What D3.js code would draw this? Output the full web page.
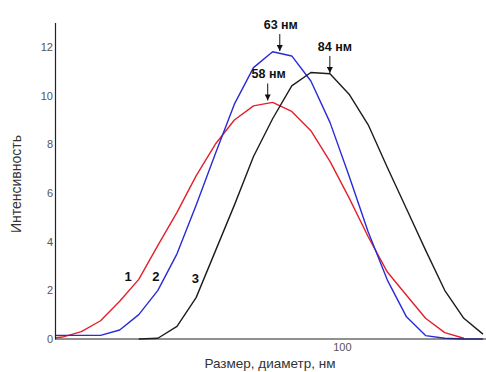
<!DOCTYPE html>
<html>
<head>
<meta charset="utf-8">
<script src="https://cdn.jsdelivr.net/npm/d3@7"></script>
<style>
  body { margin: 0; background: #fff; }
  svg { display: block; font-family: "Liberation Sans", Arial, sans-serif; }
</style>
</head>
<body>
<div id="chart"></div>
<script>
// ── Data (DLS size bins, nm) ──────────────────────────────────────────────
const sizes = [10.10, 11.70, 13.54, 15.69, 18.17, 21.04, 24.36, 28.21, 32.67, 37.84,
  43.82, 50.75, 58.77, 68.06, 78.82, 91.28, 105.7, 122.4, 141.8, 164.2, 190.1,
  220.2, 255.0, 295.3];

const series1 = [0, 0.08, 0.3, 0.75, 1.55, 2.45, 3.85, 5.2, 6.7, 8.0,
  9.0, 9.58, 9.72, 9.35, 8.56, 7.3, 5.8, 4.2, 2.75, 1.8, 0.85,
  0.26, 0.03, null];
const series2 = [0.15, 0.15, 0.15, 0.15, 0.37, 1.0, 2.0, 3.5, 5.5, 7.6,
  9.65, 11.15, 11.8, 11.63, 10.6, 8.9, 6.7, 4.4, 2.42, 0.91, 0.14,
  0.03, 0, 0];
const series3 = [null, null, null, null, null, 0, 0.03, 0.52, 1.7, 3.6,
  5.5, 7.5, 9.05, 10.4, 10.95, 10.9, 10.06, 8.8, 7.05, 5.35, 3.65,
  2.0, 0.85, 0.2];

const seriesNames = ["1", "2", "3"];
const yTicks = [0, 2, 4, 6, 8, 10, 12];
const xTicks = [100];

// peak annotations: label, size (nm) at arrow, intensity at arrow tip
const peakLabels = ["58 нм", "63 нм", "84 нм"];
const peakSizes = [56.6, 62.1, 91.2];
const peakValues = [9.8, 11.83, 10.93];

// curve number labels: size (nm), intensity
const numSizes = [19.4, 24.0, 32.5];
const numValues = [2.38, 2.38, 2.3];

// ── Dimensions ────────────────────────────────────────────────────────────
const W = 486, H = 372;
const margin = { left: 55, right: 485, bottom: 339, top: 22.6 };

const svg = d3.select("#chart").append("svg")
  .attr("width", W).attr("height", H);

// ── Scales ────────────────────────────────────────────────────────────────
const x = d3.scaleLog().domain([11.06, 300]).range([margin.left, margin.right]);
const y = d3.scaleLinear().domain([0, 13]).range([margin.bottom, margin.top]);

const colors = ["#e3202b", "#2a2ad6", "#1c1c1c"];

// ── Clip ──────────────────────────────────────────────────────────────────
svg.append("clipPath").attr("id", "plot")
  .append("rect")
  .attr("x", margin.left).attr("y", 0)
  .attr("width", W - margin.left).attr("height", margin.bottom + 1);

// ── Lines ─────────────────────────────────────────────────────────────────
const line = d3.line()
  .defined((d) => d[1] != null)
  .x((d) => x(d[0]))
  .y((d) => y(d[1]));

[series1, series2, series3].forEach((s, i) => {
  svg.append("path")
    .datum(sizes.map((d, j) => [d, s[j]]))
    .attr("clip-path", "url(#plot)")
    .attr("fill", "none")
    .attr("stroke", colors[i])
    .attr("stroke-width", 1.4)
    .attr("stroke-linejoin", "round")
    .attr("d", line);
});

// ── Axes ──────────────────────────────────────────────────────────────────
const yAxis = svg.append("g")
  .attr("transform", `translate(${margin.left},0)`)
  .call(d3.axisLeft(y).tickValues(yTicks).tickSize(0).tickPadding(2));

const xAxis = svg.append("g")
  .attr("transform", `translate(0,${margin.bottom})`)
  .call(d3.axisBottom(x).tickValues(xTicks).tickSize(0).tickPadding(4)
    .tickFormat(d3.format("d")));

[yAxis, xAxis].forEach((a) => {
  a.select(".domain").attr("stroke", "#222").attr("stroke-width", 1.2);
  a.selectAll("text")
    .attr("fill", "#555")
    .style("font-size", "11px")
    .style("font-family", "Liberation Sans, Arial, sans-serif");
});
xAxis.select(".domain").attr("d", `M${margin.left},0H${W}`);

// ── Axis Titles ───────────────────────────────────────────────────────────
svg.append("text")
  .attr("x", 270).attr("y", 368)
  .attr("text-anchor", "middle")
  .attr("fill", "#333")
  .style("font-size", "13.5px")
  .text("Размер, диаметр, нм");

svg.append("text")
  .attr("transform", "translate(21,184) rotate(-90)")
  .attr("text-anchor", "middle")
  .attr("fill", "#333")
  .style("font-size", "14px")
  .text("Интенсивность");

// ── Peak Annotations ──────────────────────────────────────────────────────
svg.append("defs").append("marker")
  .attr("id", "arrow")
  .attr("viewBox", "0 0 6 6")
  .attr("refX", 6).attr("refY", 3)
  .attr("markerWidth", 6).attr("markerHeight", 6)
  .attr("orient", "auto")
  .append("path")
  .attr("d", "M0,0L6,3L0,6Z")
  .attr("fill", "#111");

peakLabels.forEach((lab, i) => {
  const px = x(peakSizes[i]);
  const py = y(peakValues[i]);
  svg.append("line")
    .attr("x1", px).attr("x2", px)
    .attr("y1", py - 17).attr("y2", py)
    .attr("stroke", "#111")
    .attr("stroke-width", 1)
    .attr("marker-end", "url(#arrow)");
  svg.append("text")
    .attr("x", px + (i === 2 ? 5 : 1))
    .attr("y", py - 22)
    .attr("text-anchor", "middle")
    .attr("fill", "#111")
    .style("font-size", "12.5px")
    .style("font-weight", "700")
    .text(lab);
});

// ── Curve Numbers ─────────────────────────────────────────────────────────
seriesNames.forEach((n, i) => {
  svg.append("text")
    .attr("x", x(numSizes[i]))
    .attr("y", y(numValues[i]))
    .attr("text-anchor", "middle")
    .attr("fill", "#111")
    .style("font-size", "13px")
    .style("font-weight", "700")
    .text(n);
});
</script>
</body>
</html>
